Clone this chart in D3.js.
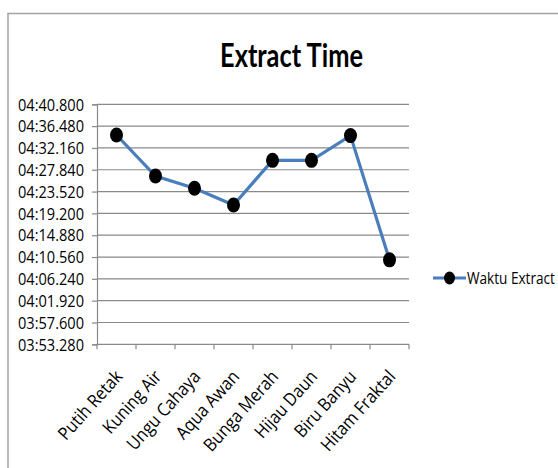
<!DOCTYPE html>
<html>
<head>
<meta charset="utf-8">
<script src="https://cdn.jsdelivr.net/npm/d3@7"></script>
<style>
  html, body { margin: 0; padding: 0; background: #fff; }
  svg { display: block; }
  text { font-family: "Open Sans", Lato, sans-serif; fill: #000; }
  text.title { font-family: Lato, "Open Sans", sans-serif; }
</style>
</head>
<body>
<svg id="chart" width="558" height="468"></svg>
<script>
// Extraction duration per sample, in seconds
const categories = ["Putih Retak", "Kuning Air", "Ungu Cahaya", "Aqua Awan", "Bunga Merah", "Hijau Daun", "Biru Banyu", "Hitam Fraktal"];
const extractSeconds = [274.72, 266.6, 264.17, 260.86, 269.7, 269.7, 274.6, 250.0];
const tickSeconds = [233.28, 237.6, 241.92, 246.24, 250.56, 254.88, 259.2, 263.52, 267.84, 272.16, 276.48, 280.8];
const seriesName = "Waktu Extract";
const chartTitle = "Extract Time";

const svg = d3.select("#chart");
const plot = { left: 97, right: 409, top: 104.3, bottom: 344.3 };
const gridColor = "#8a8a8a";
const lineColor = "#4a7ebb";
const labelSize = 16;

// mm:ss.fff formatting for the value axis
function fmt(s) {
  const m = Math.floor(s / 60);
  const ms = Math.round((s - m * 60) * 1000);
  return String(m).padStart(2, "0") + ":" + String(Math.floor(ms / 1000)).padStart(2, "0") + "." + String(ms % 1000).padStart(3, "0");
}

// horizontal squeeze factor so labels keep a narrow, tall look
function widthOf(str, size, weight, cls) {
  const t = svg.append("text").attr("class", cls || null)
    .style("font-size", size + "px").style("font-weight", weight || "normal").text(str);
  const w = t.node().getComputedTextLength();
  t.remove();
  return w;
}
const sx = 66 / widthOf("04:40.800", labelSize);
const sxLegend = 88 / widthOf(seriesName, labelSize);
const sxCat = 86 / widthOf(categories[0], 18);
const sxTitle = 143 / widthOf(chartTitle, 32, "bold", "title");

// outer frame
svg.append("rect")
  .attr("x", 8).attr("y", 13.5).attr("width", 580).attr("height", 480)
  .attr("fill", "none").attr("stroke", "#a3a3a3").attr("stroke-width", 1.5);

svg.append("text").attr("class", "title")
  .attr("transform", `translate(291.5,66.7) scale(${sxTitle},1)`)
  .attr("text-anchor", "middle")
  .style("font-size", "32px").style("font-weight", "bold")
  .text(chartTitle);

const x = d3.scaleBand().domain(categories).range([plot.left, plot.right]).padding(0);
const y = d3.scaleLinear().domain([tickSeconds[0], tickSeconds[tickSeconds.length - 1]]).range([plot.bottom, plot.top]);

// value axis with gridlines
const yAxis = d3.axisLeft(y).tickValues(tickSeconds).tickFormat(fmt).tickSize(5).tickPadding(0);
const gy = svg.append("g").attr("transform", `translate(${plot.left},0)`).call(yAxis);
gy.select(".domain").attr("stroke", gridColor).attr("stroke-width", 1.2);
gy.selectAll(".tick line").attr("stroke", gridColor).attr("stroke-width", 1.2);
gy.selectAll(".tick text")
  .attr("x", null).attr("dy", "0.36em")
  .attr("transform", `translate(-13,0) scale(${sx},1)`)
  .style("font-size", labelSize + "px").attr("fill", "#000");

svg.append("g").selectAll("line").data(tickSeconds.slice(1)).join("line")
  .attr("x1", plot.left).attr("x2", plot.right)
  .attr("y1", d => y(d)).attr("y2", d => y(d))
  .attr("stroke", gridColor).attr("stroke-width", 1.2);

// category axis: tick marks at band edges
const gx = svg.append("g").attr("transform", `translate(0,${plot.bottom})`);
gx.append("line").attr("x1", plot.left).attr("x2", plot.right).attr("stroke", gridColor).attr("stroke-width", 1.2);
const edges = categories.map(c => x(c)).concat([plot.right]);
gx.selectAll("line.edge").data(edges).join("line").attr("class", "edge")
  .attr("x1", d => d).attr("x2", d => d).attr("y1", 0).attr("y2", 5)
  .attr("stroke", gridColor).attr("stroke-width", 1.2);
gx.selectAll("text").data(categories).join("text")
  .attr("transform", d => `translate(${x(d) + x.bandwidth() / 2 + 7},33) rotate(-48) scale(${sxCat},1)`)
  .attr("text-anchor", "end")
  .style("font-size", "18px")
  .text(d => d);

// series line + markers
const cx = d => x(d) + x.bandwidth() / 2;
const line = d3.line().x((d, i) => cx(categories[i])).y(d => y(d));
svg.append("path").datum(extractSeconds)
  .attr("d", line).attr("fill", "none")
  .attr("stroke", lineColor).attr("stroke-width", 3.2);
svg.append("g").selectAll("ellipse").data(extractSeconds).join("ellipse")
  .attr("cx", (d, i) => cx(categories[i])).attr("cy", d => y(d))
  .attr("rx", 6.5).attr("ry", 7.5).attr("fill", "#000");

// legend
const lg = svg.append("g").attr("transform", "translate(433,278)");
lg.append("line").attr("x1", 0).attr("x2", 33).attr("stroke", lineColor).attr("stroke-width", 3.2);
lg.append("ellipse").attr("cx", 16.5).attr("rx", 5.5).attr("ry", 6.5).attr("fill", "#000");
lg.append("text").attr("transform", `translate(34,0) scale(${sxLegend},1)`).attr("dy", "0.36em").style("font-size", labelSize + "px").text(seriesName);
</script>
</body>
</html>
